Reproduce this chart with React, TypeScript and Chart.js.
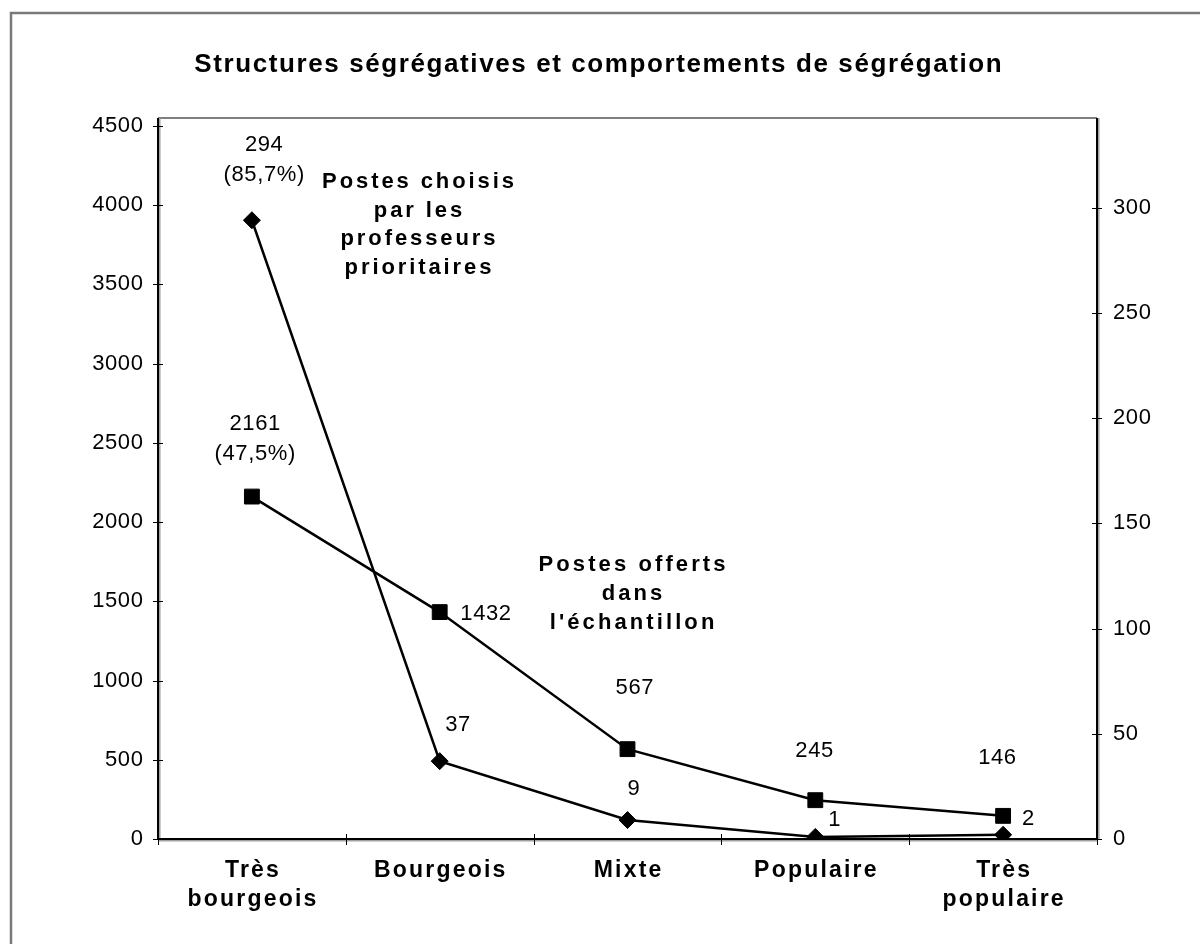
import React, { useEffect, useRef } from 'react';
import { Chart, registerables } from 'chart.js';

Chart.register(...registerables);

// ---- data ----
const categories: string[][] = [['Très', 'bourgeois'], ['Bourgeois'], ['Mixte'], ['Populaire'], ['Très', 'populaire']];
const postesOfferts = [2161, 1432, 567, 245, 146];
const postesOffertsPct = ['47,5%', '', '', '', ''];
const postesChoisis = [294, 37, 9, 1, 2];
const postesChoisisPct = ['85,7%', '', '', '', ''];
const leftTicks = [0, 500, 1000, 1500, 2000, 2500, 3000, 3500, 4000, 4500];
const rightTicks = [0, 50, 100, 150, 200, 250, 300];
const titleText = 'Structures ségrégatives et comportements de ségrégation';
const annotationChoisis = ['Postes choisis', 'par les', 'professeurs', 'prioritaires'];
const annotationOfferts = ['Postes offerts', 'dans', "l'échantillon"];

// ---- axis ranges / styling ----
const LEFT_MAX = 4550;
const RIGHT_MAX = 342.6;
const FONT = "'Liberation Sans', Arial, sans-serif";
const REG_SPACING = 0.6;
// label offsets relative to the marker: [dx of centre, dy of last baseline]
const offertsLabelOffset = [[3, -37], [46, 8], [7, -55], [-1, -43], [-6, -52]];
const choisisLabelOffset = [[12, -39], [18, -30], [6, -25], [19, -11], [25, -10]];
const annotationChoisisPos = { x: 418, y: 188 };
const annotationOffertsPos = { x: 632, y: 571 };

function drawSpaced(ctx: CanvasRenderingContext2D, text: string, x: number, y: number, spacing: number) {
  ctx.letterSpacing = spacing + 'px';
  ctx.textAlign = 'center';
  ctx.fillText(text, x + spacing / 2, y);
}

const decorPlugin = {
  id: 'decor',
  beforeDraw(chart: any) {
    const ctx: CanvasRenderingContext2D = chart.ctx;
    ctx.save();
    ctx.strokeStyle = '#7a7a7a';
    ctx.lineWidth = 2.5;
    ctx.beginPath();
    ctx.moveTo(11, 1000);
    ctx.lineTo(11, 13);
    ctx.lineTo(1300, 13);
    ctx.stroke();
    ctx.restore();
    ctx.letterSpacing = REG_SPACING + 'px';
  },
  beforeDatasetsDraw(chart: any) {
    const ctx: CanvasRenderingContext2D = chart.ctx;
    const { left, right, top, bottom } = chart.chartArea;
    const ys = chart.scales.y;
    const y1s = chart.scales.y1;
    const xs = chart.scales.x;
    ctx.save();
    ctx.letterSpacing = '0px';
    // top border
    ctx.strokeStyle = '#808080';
    ctx.lineWidth = 2;
    ctx.beginPath();
    ctx.moveTo(left, top);
    ctx.lineTo(right, top);
    ctx.stroke();
    // shadows
    ctx.strokeStyle = '#a0a0a0';
    ctx.lineWidth = 1.5;
    ctx.beginPath();
    ctx.moveTo(left + 1.8, top);
    ctx.lineTo(left + 1.8, bottom);
    ctx.moveTo(right + 1.8, top);
    ctx.lineTo(right + 1.8, bottom);
    ctx.moveTo(left, bottom + 1.8);
    ctx.lineTo(right, bottom + 1.8);
    ctx.stroke();
    // axes
    ctx.strokeStyle = '#000';
    ctx.lineWidth = 2;
    ctx.beginPath();
    ctx.moveTo(left, top);
    ctx.lineTo(left, bottom);
    ctx.moveTo(right, top);
    ctx.lineTo(right, bottom);
    ctx.moveTo(left, bottom);
    ctx.lineTo(right, bottom);
    ctx.stroke();
    // tick marks
    ctx.lineWidth = 1;
    ctx.beginPath();
    leftTicks.forEach((v) => {
      const y = Math.round(ys.getPixelForValue(v)) + 0.5;
      ctx.moveTo(left - 5, y);
      ctx.lineTo(left + 5, y);
    });
    rightTicks.forEach((v) => {
      const y = Math.round(y1s.getPixelForValue(v)) + 0.5;
      ctx.moveTo(right - 5, y);
      ctx.lineTo(right + 5, y);
    });
    for (let i = 0; i <= categories.length; i++) {
      const x = Math.round(xs.getPixelForValue(i - 0.5)) + 0.5;
      ctx.moveTo(x, bottom - 5);
      ctx.lineTo(x, bottom + 6);
    }
    ctx.stroke();
    ctx.restore();
  },
  afterDraw(chart: any) {
    const ctx: CanvasRenderingContext2D = chart.ctx;
    const xs = chart.scales.x;
    const { bottom } = chart.chartArea;
    ctx.save();
    ctx.fillStyle = '#000';
    ctx.textBaseline = 'alphabetic';

    // title
    ctx.font = `bold 26px ${FONT}`;
    drawSpaced(ctx, titleText, 598, 72, 1.6);

    // category labels
    ctx.font = `bold 23px ${FONT}`;
    categories.forEach((lines, i) => {
      const x = xs.getPixelForValue(i);
      lines.forEach((t, j) => drawSpaced(ctx, t, x, bottom + 38 + j * 29, 2.2));
    });

    // annotations
    ctx.font = `bold 22px ${FONT}`;
    annotationChoisis.forEach((t, j) => drawSpaced(ctx, t, annotationChoisisPos.x, annotationChoisisPos.y + j * 28.7, 2.9));
    annotationOfferts.forEach((t, j) => drawSpaced(ctx, t, annotationOffertsPos.x, annotationOffertsPos.y + j * 29, 3.1));

    // data labels
    ctx.font = `22px ${FONT}`;
    const drawLabels = (dsIndex: number, values: number[], pct: string[], offs: number[][]) => {
      const meta = chart.getDatasetMeta(dsIndex);
      meta.data.forEach((pt: any, i: number) => {
        const lines = [String(values[i])];
        if (pct[i]) lines.push('(' + pct[i] + ')');
        const [dx, dy] = offs[i];
        const n = lines.length;
        lines.forEach((t, j) => drawSpaced(ctx, t, pt.x + dx, pt.y + dy - (n - 1 - j) * 30, REG_SPACING));
      });
    };
    drawLabels(0, postesOfferts, postesOffertsPct, offertsLabelOffset);
    drawLabels(1, postesChoisis, postesChoisisPct, choisisLabelOffset);
    ctx.restore();
    ctx.letterSpacing = '0px';
  },
};

export default function App() {
  const ref = useRef<HTMLCanvasElement>(null);
  useEffect(() => {
    if (!ref.current) return;
    const chart = new Chart(ref.current, {
      type: 'line',
      data: {
        labels: categories.map((c) => c.join(' ')),
        datasets: [
          {
            label: 'Postes offerts dans l\'échantillon',
            data: postesOfferts,
            yAxisID: 'y',
            borderColor: '#000',
            backgroundColor: '#000',
            borderWidth: 2.5,
            pointStyle: 'rect',
            pointRadius: 10.5,
            pointBorderWidth: 1,
            pointBackgroundColor: '#000',
            pointBorderColor: '#000',
            tension: 0,
          },
          {
            label: 'Postes choisis par les professeurs prioritaires',
            data: postesChoisis,
            yAxisID: 'y1',
            borderColor: '#000',
            backgroundColor: '#000',
            borderWidth: 2.5,
            pointStyle: 'rectRot',
            pointRadius: 8.5,
            pointBorderWidth: 1,
            pointBackgroundColor: '#000',
            pointBorderColor: '#000',
            tension: 0,
          },
        ],
      },
      options: {
        animation: false,
        responsive: false,
        devicePixelRatio: 1,
        layout: { padding: { top: 118, left: 0, right: 0, bottom: 0 } },
        plugins: {
          legend: { display: false },
          title: { display: false },
          tooltip: { enabled: false },
        },
        scales: {
          x: {
            type: 'category',
            offset: true,
            grid: { display: false, drawTicks: false },
            border: { display: false },
            ticks: { display: false },
            afterFit: (s: any) => { s.height = 105; },
          },
          y: {
            position: 'left',
            min: 0,
            max: LEFT_MAX,
            grid: { display: false, drawTicks: false },
            border: { display: false },
            ticks: { color: '#000', font: { family: FONT, size: 22 }, padding: 14.5, callback: (v: any) => String(v) },
            afterBuildTicks: (s: any) => { s.ticks = leftTicks.map((v) => ({ value: v })); },
            afterFit: (s: any) => { s.width = 158; },
          },
          y1: {
            position: 'right',
            min: 0,
            max: RIGHT_MAX,
            grid: { display: false, drawTicks: false },
            border: { display: false },
            ticks: { color: '#000', font: { family: FONT, size: 22 }, padding: 16, callback: (v: any) => String(v) },
            afterBuildTicks: (s: any) => { s.ticks = rightTicks.map((v) => ({ value: v })); },
            afterFit: (s: any) => { s.width = 103; },
          },
        },
      } as any,
      plugins: [decorPlugin],
    });
    return () => chart.destroy();
  }, []);
  return (
    <div style={{ position: 'fixed', left: 0, top: 0, width: 1200, height: 944, background: '#fff' }}>
      <canvas ref={ref} width={1200} height={944} style={{ display: 'block', width: 1200, height: 944 }} />
    </div>
  );
}
